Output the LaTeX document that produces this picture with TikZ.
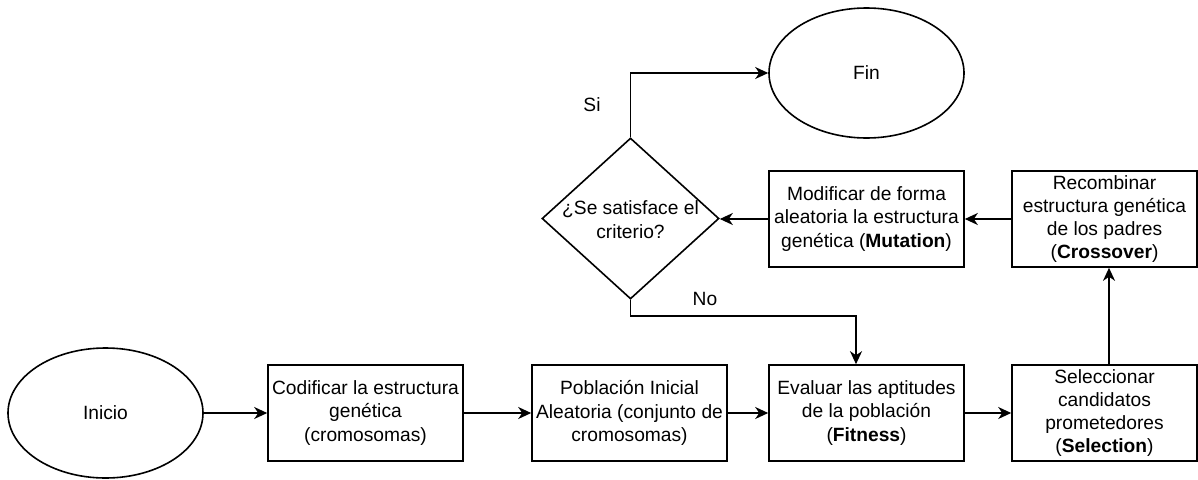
\documentclass[tikz,border=0pt]{standalone}
\usepackage{fontspec}
\setmainfont{Liberation Sans}
\usetikzlibrary{arrows.meta,shapes.geometric,calc}
\begin{document}
\begin{tikzpicture}[x=1pt,y=-1pt,
 every node/.style={font=\fontsize{19.2}{23.3}\selectfont},
 proc/.style={draw,line width=1.6pt,rectangle,minimum width=195pt,minimum height=96pt,align=center,inner sep=0pt},
 term/.style={draw,line width=1.6pt,ellipse,minimum width=195pt,minimum height=130pt,inner sep=0pt},
 decision/.style={draw,line width=1.6pt,diamond,minimum width=177pt,minimum height=161pt,inner sep=0pt},
 arr/.style={line width=1.6pt,-{Stealth[length=13pt,width=12pt,inset=4pt]}},
 lbl/.style={inner sep=0pt}]
\useasboundingbox (0,0) rectangle (1198,479);
\fill[white] (0,0) rectangle (1198,479);
\node[term] (ini) at (105.5,413) {Inicio};
\node[proc] (cod) at (365.5,413) {Codificar la estructura\\genética\\(cromosomas)};
\node[proc] (pob) at (629.5,413) {Población Inicial\\Aleatoria (conjunto de\\cromosomas)};
\node[proc] (eva) at (866.5,413) {Evaluar las aptitudes\\de la población\\(\textbf{Fitness})};
\node[proc,minimum width=185pt] (sel) at (1104.5,413) {Seleccionar\\candidatos\\prometedores\\(\textbf{Selection})};
\node[proc,minimum width=185pt] (rec) at (1104.5,219) {Recombinar\\estructura genética\\de los padres\\(\textbf{Crossover})};
\node[proc] (mod) at (866.5,219) {Modificar de forma\\aleatoria la estructura\\genética (\textbf{Mutation})};
\node[term] (fin) at (866.5,73) {Fin};
\node[decision] (dec) at (630.5,218.5) {};
\node[align=center,lbl] (dect) at (630.5,219.5) {¿Se satisface el\\criterio?};
\node[lbl] (si) at (592,105) {Si};
\node[lbl] (no) at (705,299) {No};
\draw[arr] (ini) -- (cod);
\draw[arr] (cod) -- (pob);
\draw[arr] (pob) -- (eva);
\draw[arr] (eva) -- (sel);
\draw[arr] ([xshift=4.5pt]sel.north) -- ([xshift=4.5pt]rec.south);
\draw[arr] (rec) -- (mod);
\draw[arr] (mod.west) -- (mod.west -| dec.east);
\draw[arr] (dec.north) |- (fin.west);
\draw[arr] (dec.south) -- ++(0,16) -| ([xshift=-10.5pt]eva.north);
\end{tikzpicture}
\end{document}
